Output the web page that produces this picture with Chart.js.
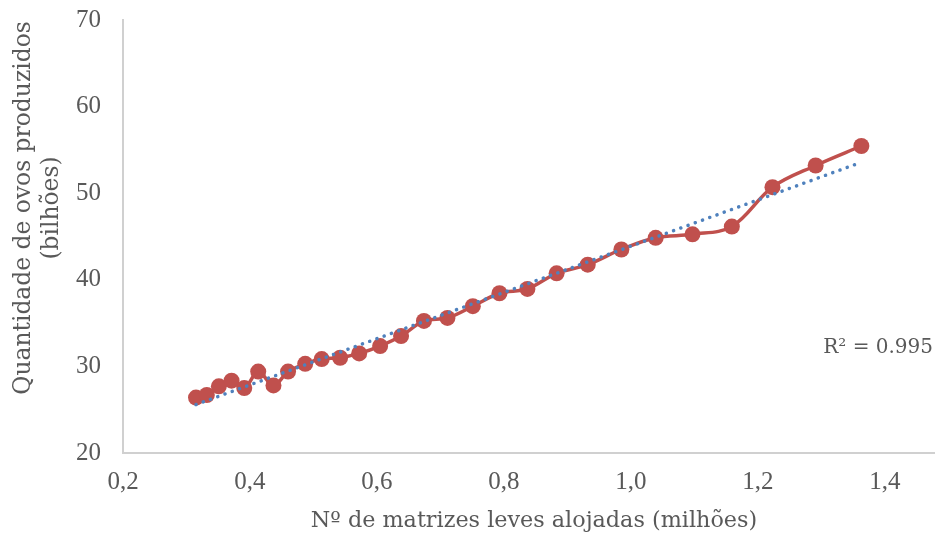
<!DOCTYPE html>
<html>
<head>
<meta charset="utf-8">
<script src="https://cdn.jsdelivr.net/npm/chart.js@4"></script>
<style>
  html, body { margin: 0; padding: 0; background: #fff; }
  #wrap { width: 935px; height: 536px; }
</style>
</head>
<body>
<div id="wrap"><canvas id="chart" width="935" height="536"></canvas></div>
<script>
// ── data ────────────────────────────────────────────────────────────────
const matrizes = [0.315, 0.332, 0.351, 0.371, 0.391, 0.413, 0.437, 0.460, 0.487, 0.513,
  0.542, 0.572, 0.605, 0.638, 0.674, 0.711, 0.751, 0.793, 0.837, 0.883,
  0.932, 0.985, 1.039, 1.097, 1.159, 1.223, 1.291, 1.363];
const ovos = [26.4, 26.7, 27.7, 28.35, 27.5, 29.4, 27.8, 29.4, 30.3, 30.85,
  31.0, 31.5, 32.35, 33.5, 35.25, 35.6, 36.95, 38.45, 38.95, 40.75,
  41.75, 43.5, 44.85, 45.25, 46.15, 50.7, 53.2, 55.45];
const xTicks = [0.2, 0.4, 0.6, 0.8, 1.0, 1.2, 1.4];
const yTicks = [20, 30, 40, 50, 60, 70];
const r2Label = 'R² = 0.995';
const xTitle = 'Nº de matrizes leves alojadas (milhões)';
const yTitle = ['Quantidade de ovos produzidos', '(bilhões)'];

const COLORS = {
  series: '#C0504D',
  trend: '#4F81BD',
  axis: '#D0D0D0',
  text: '#595959',
};

// ── linear trendline (least squares) ────────────────────────────────────
function linearFit(xs, ys) {
  const n = xs.length;
  let sx = 0, sy = 0, sxx = 0, sxy = 0;
  for (let i = 0; i < n; i++) {
    sx += xs[i]; sy += ys[i];
    sxx += xs[i] * xs[i]; sxy += xs[i] * ys[i];
  }
  const slope = (n * sxy - sx * sy) / (n * sxx - sx * sx);
  const icpt = (sy - slope * sx) / n;
  return x => slope * x + icpt;
}
const fit = linearFit(matrizes, ovos);
const xMin = Math.min(...matrizes), xMax = Math.max(...matrizes);
const trendPts = [{ x: xMin, y: fit(xMin) }, { x: xMax, y: fit(xMax) }];
const seriesPts = matrizes.map((x, i) => ({ x, y: ovos[i] }));

// ── titles + R² drawn as text ──────────────────────────────────────────
const labelsPlugin = {
  id: 'labels',
  afterDraw(chart) {
    const { ctx } = chart;
    ctx.save();
    ctx.fillStyle = COLORS.text;
    ctx.textBaseline = 'middle';
    // x title
    ctx.font = '22.3px "DejaVu Serif"';
    ctx.textAlign = 'center';
    ctx.fillText(xTitle, 534, 521);
    // y title (rotated)
    ctx.font = '23.4px "DejaVu Serif"';
    ctx.save();
    ctx.translate(24, 208);
    ctx.rotate(-Math.PI / 2);
    ctx.fillText(yTitle[0], 0, 0);
    ctx.fillText(yTitle[1], 0, 28);
    ctx.restore();
    // R²
    ctx.font = '20px "DejaVu Serif"';
    ctx.textAlign = 'right';
    ctx.fillText(r2Label, 933, 348);
    ctx.restore();
  },
};

// invisible tick marks give the label gap without padding the chart area
const hiddenTicks = len => ({
  display: true,
  drawOnChartArea: false,
  drawTicks: true,
  tickLength: len,
  color: 'rgba(0,0,0,0)',
});

new Chart(document.getElementById('chart'), {
  type: 'scatter',
  data: {
    datasets: [
      {
        label: 'Linear',
        data: trendPts,
        showLine: true,
        borderColor: COLORS.trend,
        borderWidth: 3.5,
        borderDash: [0.1, 7.6],
        borderCapStyle: 'round',
        pointRadius: 0,
        order: 0,
      },
      {
        label: 'Ovos',
        data: seriesPts,
        showLine: true,
        borderColor: COLORS.series,
        backgroundColor: COLORS.series,
        borderWidth: 3.5,
        tension: 0.35,
        pointRadius: 8,
        pointHoverRadius: 8,
        pointBorderWidth: 0,
        order: 1,
      },
    ],
  },
  options: {
    responsive: false,
    animation: false,
    layout: { autoPadding: false, padding: { top: 20, right: 0, left: 0, bottom: 0 } },
    plugins: {
      legend: { display: false },
      tooltip: { enabled: false },
    },
    scales: {
      x: {
        type: 'linear',
        min: 0.2,
        max: 1.479,
        afterBuildTicks: s => { s.ticks = xTicks.map(v => ({ value: v })); },
        afterFit: s => { s.height = 83; },
        grid: hiddenTicks(14),
        border: { color: COLORS.axis, width: 2 },
        ticks: {
          padding: 0,
          color: COLORS.text,
          font: { family: '"Liberation Serif"', size: 25 },
          maxRotation: 0,
          callback: v => v.toFixed(1).replace('.', ','),
        },
      },
      y: {
        type: 'linear',
        min: 20,
        max: 70,
        afterBuildTicks: s => { s.ticks = yTicks.map(v => ({ value: v })); },
        afterFit: s => { s.width = 123; },
        grid: hiddenTicks(22),
        border: { color: COLORS.axis, width: 2 },
        ticks: {
          padding: 0,
          color: COLORS.text,
          font: { family: '"Liberation Serif"', size: 25 },
        },
      },
    },
  },
  plugins: [labelsPlugin],
});
</script>
</body>
</html>
